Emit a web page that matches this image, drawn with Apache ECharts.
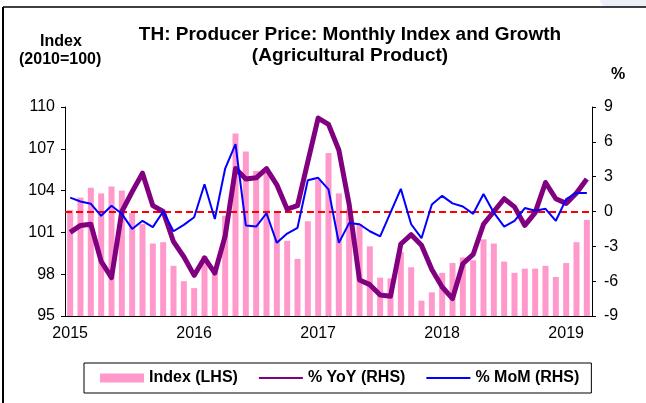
<!DOCTYPE html>
<html>
<head>
<meta charset="utf-8">
<title>TH: Producer Price: Monthly Index and Growth</title>
<script src="https://cdn.jsdelivr.net/npm/echarts@6/dist/echarts.min.js"></script>
<style>
  html, body { margin: 0; padding: 0; background: #fff; }
  #chart { width: 646px; height: 403px; }
</style>
</head>
<body>
<div id="chart"></div>
<script>
// months Jan 2015 .. Mar 2019
const months = [
  '2015-01','2015-02','2015-03','2015-04','2015-05','2015-06','2015-07','2015-08','2015-09','2015-10','2015-11','2015-12',
  '2016-01','2016-02','2016-03','2016-04','2016-05','2016-06','2016-07','2016-08','2016-09','2016-10','2016-11','2016-12',
  '2017-01','2017-02','2017-03','2017-04','2017-05','2017-06','2017-07','2017-08','2017-09','2017-10','2017-11','2017-12',
  '2018-01','2018-02','2018-03','2018-04','2018-05','2018-06','2018-07','2018-08','2018-09','2018-10','2018-11','2018-12',
  '2019-01','2019-02','2019-03'
];

// index, 2010=100 (LHS)
const indexValues = [
  102.6, 103.5, 104.2, 103.8, 104.3, 104.0, 102.4, 101.6, 100.2, 100.3, 98.6, 97.5,
  97.0, 99.3, 98.4, 102.2, 108.1, 106.8, 105.4, 105.5, 102.4, 100.4, 99.1, 101.8,
  104.8, 106.7, 103.8, 102.7, 101.6, 100.0, 97.75, 97.7, 99.6, 98.5, 96.1, 96.7,
  98.1, 98.8, 99.2, 99.0, 100.5, 100.2, 98.9, 98.1, 98.4, 98.4, 98.6, 97.8,
  98.8, 100.3, 101.9
];

// % YoY (RHS)
const yoyValues = [
  -1.8, -1.2, -1.1, -4.3, -5.7, 0.0, 1.7, 3.3, 0.5, 0.0, -2.6, -3.9,
  -5.5, -4.0, -5.3, -2.1, 3.7, 2.8, 2.9, 3.7, 2.3, 0.2, 0.5, 4.3,
  8.05, 7.5, 5.3, 0.6, -5.9, -6.3, -7.2, -7.3, -2.8, -2.0, -2.9, -5.0,
  -6.5, -7.5, -4.5, -3.7, -1.1, 0.0, 1.1, 0.4, -1.2, -0.1, 2.5, 1.1,
  0.7, 1.6, 2.8
];

// % MoM (RHS)
const momValues = [
  1.2, 0.86, 0.66, -0.37, 0.49, -0.2, -1.5, -0.8, -1.35, 0.0, -1.7, -1.15,
  -0.5, 2.35, -0.65, 3.7, 5.8, -1.2, -1.3, -0.15, -2.7, -1.9, -1.4, 2.7,
  2.9, 1.9, -2.7, -1.0, -1.1, -1.7, -2.15, -0.1, 1.95, -1.1, -2.3, 0.6,
  1.35, 0.7, 0.43, -0.2, 1.5, -0.1, -1.3, -0.8, 0.3, 0.06, 0.23, -0.8,
  1.07, 1.6, 1.6
];

const font = 'Liberation Sans, Arial, sans-serif';
const chart = echarts.init(document.getElementById('chart'));

// hide the marker circle that line series put in the legend
const noMarker = { color: 'rgba(0,0,0,0)', borderWidth: 0 };

chart.setOption({
  backgroundColor: '#fff',
  animation: false,
  title: {
    text: 'TH: Producer Price: Monthly Index and Growth\n(Agricultural Product)',
    left: 345,
    top: 19,
    textAlign: 'center',
    textStyle: { fontFamily: font, fontSize: 19, fontWeight: 'bold', color: '#000', lineHeight: 21 }
  },
  legend: {
    left: 84,
    top: 363,
    padding: [7, 12, 7, 16],
    itemGap: 20,
    itemWidth: 44,
    itemHeight: 9,
    borderColor: '#000',
    borderWidth: 1,
    textStyle: { fontFamily: font, fontSize: 16, fontWeight: 'bold', color: '#000' },
    data: [
      { name: 'Index (LHS)', icon: 'rect' },
      { name: '% YoY (RHS)', itemStyle: noMarker },
      { name: '% MoM (RHS)', itemStyle: noMarker }
    ]
  },
  grid: { left: 65, top: 107, width: 527, height: 209 },
  xAxis: {
    type: 'category',
    data: months,
    boundaryGap: true,
    axisLine: { onZero: false, lineStyle: { color: '#000', width: 1 } },
    axisTick: { interval: 11, length: 4, lineStyle: { color: '#000' } },
    axisLabel: {
      interval: 11,
      margin: 10,
      fontFamily: font,
      fontSize: 16,
      color: '#000',
      formatter: v => v.slice(0, 4)
    },
    splitLine: { show: false }
  },
  yAxis: [
    {
      type: 'value',
      min: 95,
      max: 110,
      interval: 3,
      position: 'left',
      axisLine: { show: true, onZero: false, lineStyle: { color: '#000' } },
      axisTick: { show: true, length: 4, lineStyle: { color: '#000' } },
      axisLabel: { margin: 10, fontFamily: font, fontSize: 16, color: '#000' },
      splitLine: { show: false }
    },
    {
      type: 'value',
      min: -9,
      max: 9,
      interval: 3,
      position: 'right',
      axisLine: { show: true, onZero: false, lineStyle: { color: '#000' } },
      axisTick: { show: true, length: 4, lineStyle: { color: '#000' } },
      axisLabel: { margin: 12, fontFamily: font, fontSize: 16, color: '#000' },
      splitLine: { show: false }
    }
  ],
  graphic: [
    { type: 'text', left: 40, top: 34, style: { text: 'Index', fontFamily: font, fontSize: 16, fontWeight: 'bold', fill: '#000' } },
    { type: 'text', left: 19, top: 52, style: { text: '(2010=100)', fontFamily: font, fontSize: 16, fontWeight: 'bold', fill: '#000' } },
    { type: 'text', left: 611, top: 67, style: { text: '%', fontFamily: font, fontSize: 16, fontWeight: 'bold', fill: '#000' } },
    { type: 'rect', shape: { x: 600, y: -10, width: 60, height: 17, r: 8 }, style: { fill: '#eceff6' }, z: -1 },
    { type: 'line', shape: { x1: 3, y1: 7, x2: 646, y2: 7 }, style: { stroke: '#000', lineWidth: 1.5 } },
    { type: 'line', shape: { x1: 3, y1: 7, x2: 3, y2: 403 }, style: { stroke: '#000', lineWidth: 2 } }
  ],
  series: [
    {
      name: 'Index (LHS)',
      type: 'bar',
      yAxisIndex: 0,
      barWidth: 6,
      itemStyle: { color: '#ff99cc' },
      data: indexValues
    },
    {
      name: '% YoY (RHS)',
      type: 'line',
      yAxisIndex: 1,
      z: 4,
      symbol: 'none',
      lineStyle: { color: '#800080', width: 5, join: 'round' },
      itemStyle: { color: '#800080' },
      data: yoyValues
    },
    {
      name: '% MoM (RHS)',
      type: 'line',
      yAxisIndex: 1,
      z: 4,
      symbol: 'none',
      lineStyle: { color: '#0000ff', width: 2 },
      itemStyle: { color: '#0000ff' },
      data: momValues,
      markLine: {
        silent: true,
        z: 3,
        symbol: 'none',
        label: { show: false },
        lineStyle: { color: '#ff0000', width: 2, type: [7, 4] },
        data: [{ yAxis: 0 }]
      }
    }
  ]
});
</script>
</body>
</html>
